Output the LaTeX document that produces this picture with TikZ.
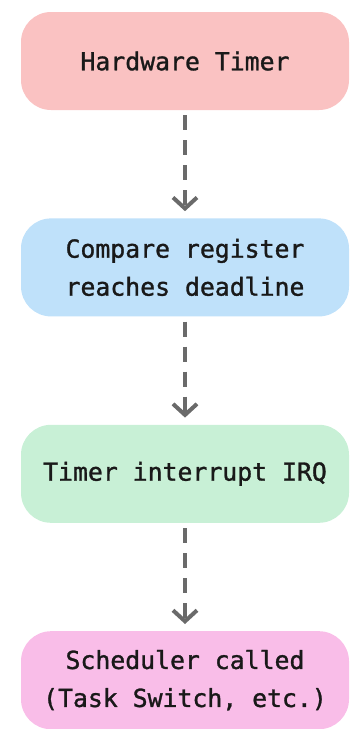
\documentclass[tikz,border=0pt]{standalone}
\usepackage{fontspec}
\setmonofont[FakeBold=1.2]{DejaVu Sans Mono}
\usetikzlibrary{positioning,arrows.meta}

\definecolor{timerred}{HTML}{FAC2C2}
\definecolor{cmpblue}{HTML}{BFE1FA}
\definecolor{irqgreen}{HTML}{C8F0D6}
\definecolor{schedpink}{HTML}{F9BDE8}
\definecolor{flowgray}{HTML}{6A6A6A}

\begin{document}
\begin{tikzpicture}[
  x=1pt, y=1pt,
  node distance=108pt,
  block/.style={rectangle, rounded corners=30pt, minimum width=328pt, minimum height=98pt, align=center, font=\ttfamily\fontsize{24.8}{38}\selectfont, text=black!90},
  timerb/.style={block, fill=timerred},
  cmpb/.style={block, fill=cmpblue},
  irqb/.style={block, fill=irqgreen},
  schedb/.style={block, fill=schedpink},
  flow/.style={-{Straight Barb[length=11pt, width=24pt]}, line width=4pt, draw=flowgray, dash pattern=on 15pt off 10pt, shorten <=5pt, shorten >=7pt},
]
\useasboundingbox (0,0) rectangle (350,-729);

% Boxes, top to bottom
\node[timerb] (hw) at (185,-61) {Hardware Timer};
\node[cmpb, below=of hw] (cmp) {Compare register\\reaches deadline};
\node[irqb, below=of cmp] (irq) {Timer interrupt IRQ};
\node[schedb, below=of irq] (sched) {Scheduler called\\(Task Switch, etc.)};

% Dashed flow arrows
\draw[flow] (hw) -- (cmp);
\draw[flow] (cmp) -- (irq);
\draw[flow] (irq) -- (sched);

\end{tikzpicture}
\end{document}
